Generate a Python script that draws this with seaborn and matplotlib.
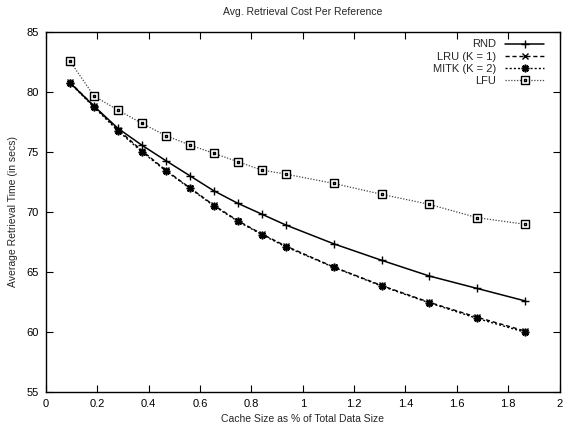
import matplotlib
matplotlib.use("Agg")
import matplotlib.pyplot as plt
from matplotlib.path import Path
import seaborn as sns
import pandas as pd
import numpy as np

# ---- data ----
cache_pct = [0.093, 0.187, 0.280, 0.373, 0.467, 0.560, 0.653, 0.747, 0.840, 0.933,
             1.120, 1.307, 1.493, 1.680, 1.867]
rnd  = [80.75, 78.8, 76.95, 75.55, 74.25, 73.0, 71.75, 70.7, 69.8, 68.9,
        67.33, 65.95, 64.64, 63.6, 62.56]
lru  = [80.8, 78.8, 76.85, 75.1, 73.45, 72.0, 70.55, 69.25, 68.15, 67.15,
        65.4, 63.85, 62.45, 61.2, 60.05]
mitk = [80.75, 78.7, 76.75, 75.0, 73.4, 71.95, 70.5, 69.2, 68.1, 67.08,
        65.37, 63.8, 62.4, 61.1, 59.95]
lfu  = [82.56, 79.64, 78.47, 77.37, 76.34, 75.56, 74.87, 74.17, 73.47, 73.14,
        72.36, 71.45, 70.61, 69.5, 68.95]
series_names = ["RND", "LRU (K = 1)", "MITK (K = 2)", "LFU"]
title = "Avg. Retrieval Cost Per Reference"
xlabel = "Cache Size as % of Total Data Size"
ylabel = "Average Retrieval Time (in secs)"
xticks = [0, 0.2, 0.4, 0.6, 0.8, 1, 1.2, 1.4, 1.6, 1.8, 2]
xticklabels = ["0", "0.2", "0.4", "0.6", "0.8", "1", "1.2", "1.4", "1.6", "1.8", "2"]
yticks = [55, 60, 65, 70, 75, 80, 85]

sns.set_theme(style="ticks")
plt.rcParams['font.family'] = ['Liberation Sans', 'DejaVu Sans']
plt.rcParams['font.size'] = 7.5

fig = plt.figure(figsize=(5.65, 4.32), dpi=100)
ax = fig.add_axes([0.0814, 0.0933, 0.9089, 0.8333])

df = pd.DataFrame({"x": cache_pct * 4,
                   "y": rnd + lru + mitk + lfu,
                   "series": sum([[n] * len(cache_pct) for n in series_names], [])})

# square marker with a small dot in its centre (gnuplot point type 4 look)
s_out, s_in = 1.0, 0.3
dot_square = Path(
    [(-s_out, -s_out), (s_out, -s_out), (s_out, s_out), (-s_out, s_out), (-s_out, -s_out),
     (-s_in, -s_in), (-s_in, s_in), (s_in, s_in), (s_in, -s_in), (-s_in, -s_in)],
    [Path.MOVETO, Path.LINETO, Path.LINETO, Path.LINETO, Path.CLOSEPOLY,
     Path.MOVETO, Path.LINETO, Path.LINETO, Path.LINETO, Path.CLOSEPOLY])

styles = {
    "RND": dict(color="black", linestyle="-", marker="+", markersize=5.5, linewidth=1.1,
                markeredgewidth=1.0, markeredgecolor="black"),
    "LRU (K = 1)": dict(color="black", linestyle=(0, (3, 2)), marker="x", markersize=4,
                        linewidth=1.0, markeredgewidth=1.0, markeredgecolor="black"),
    "MITK (K = 2)": dict(color="black", linestyle=(0, (1.5, 1.5)), marker=(8, 2, 0), markersize=5.5,
                         linewidth=1.0, markeredgewidth=1.2, markeredgecolor="black"),
    "LFU": dict(color="#444444", linestyle=(0, (1, 1.3)), marker=dot_square, markersize=6,
                linewidth=0.9, markeredgewidth=1.0, markerfacecolor="white",
                markeredgecolor="black"),
}

for name in series_names:
    sub = df[df["series"] == name]
    sns.lineplot(data=sub, x="x", y="y", ax=ax, label=name, **styles[name])

ax.set_xlim(0, 2)
ax.set_ylim(55, 85)
ax.set_xticks(xticks)
ax.set_xticklabels(xticklabels)
ax.set_yticks(yticks)
ax.tick_params(direction="in", top=True, right=True, length=5, width=0.8, labelsize=8,
               colors="black", pad=5)
for sp in ax.spines.values():
    sp.set_linewidth(1.0)
    sp.set_color("black")

ax.set_title(title, fontsize=7.5, pad=12)
ax.set_xlabel(xlabel, fontsize=7.5, labelpad=4)
ax.set_ylabel(ylabel, fontsize=7.5, labelpad=6)

leg = ax.legend(loc="upper right", frameon=False, markerfirst=False, fontsize=8,
                handlelength=3.5, handletextpad=0.8, labelspacing=0.2,
                bbox_to_anchor=(0.985, 1.0), borderaxespad=0.3)
for t in leg.get_texts():
    t.set_ha("right")

fig.savefig("out.png", dpi=100)
